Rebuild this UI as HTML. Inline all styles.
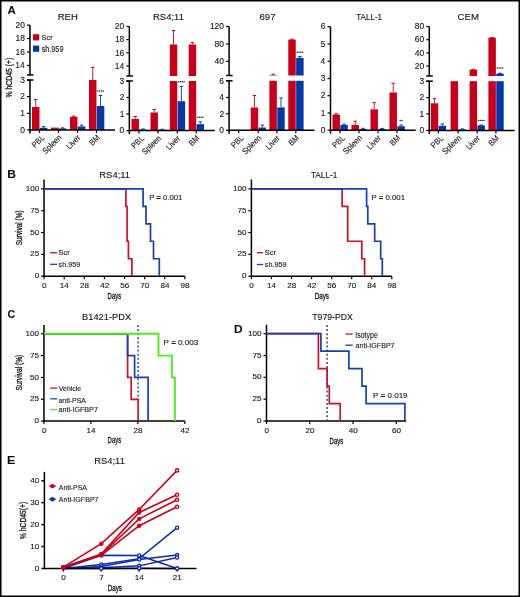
<!DOCTYPE html>
<html><head><meta charset="utf-8"><style>
html,body{margin:0;padding:0;background:#fff;}
svg{display:block;will-change:transform;}
text{font-family:"Liberation Sans", sans-serif;fill:#111;stroke:#111;stroke-width:0.1px;}
text.cd{stroke-width:0.3px;}
</style></head><body>
<svg width="520" height="597" viewBox="0 0 520 597">
<defs><filter id="sb" x="-2%" y="-2%" width="104%" height="104%"><feGaussianBlur stdDeviation="0.3"/></filter></defs>
<rect x="0" y="0" width="520" height="597" fill="#fff"/>
<g filter="url(#sb)">
<text x="7.41" y="13.8" font-size="10.61" font-weight="bold" textLength="8.29" lengthAdjust="spacingAndGlyphs">A</text>
<text x="7.2" y="177.7" font-size="11.19" font-weight="bold" textLength="8.64" lengthAdjust="spacingAndGlyphs">B</text>
<text x="7.56" y="318.3" font-size="10.45" font-weight="bold" textLength="7.73" lengthAdjust="spacingAndGlyphs">C</text>
<text x="234" y="333.1" font-size="11.19" font-weight="bold" textLength="8.6" lengthAdjust="spacingAndGlyphs">D</text>
<text x="6.97" y="464.4" font-size="10.47" font-weight="bold" textLength="8.32" lengthAdjust="spacingAndGlyphs">E</text>
<text x="57.72" y="20" font-size="8.29" textLength="20.05" lengthAdjust="spacingAndGlyphs">REH</text>
<rect x="32" y="107" width="7.45" height="22.9" fill="#c8001a"/>
<line x1="35.73" y1="107" x2="35.73" y2="99.5" stroke="#c8001a" stroke-width="0.9"/>
<line x1="34.02" y1="99.5" x2="37.43" y2="99.5" stroke="#c8001a" stroke-width="1"/>
<rect x="39.85" y="127.8" width="7.45" height="2.1" fill="#0038a8"/>
<line x1="43.58" y1="127.8" x2="43.58" y2="126.6" stroke="#0038a8" stroke-width="0.9"/>
<line x1="41.88" y1="126.6" x2="45.28" y2="126.6" stroke="#0038a8" stroke-width="1"/>
<rect x="51" y="127.6" width="7.45" height="2.3" fill="#c8001a"/>
<rect x="58.85" y="128.4" width="7.45" height="1.5" fill="#0038a8"/>
<line x1="62.58" y1="128.4" x2="62.58" y2="127.9" stroke="#0038a8" stroke-width="0.9"/>
<line x1="60.88" y1="127.9" x2="64.28" y2="127.9" stroke="#0038a8" stroke-width="1"/>
<rect x="70" y="116.8" width="7.45" height="13.1" fill="#c8001a"/>
<line x1="73.72" y1="116.8" x2="73.72" y2="116.2" stroke="#c8001a" stroke-width="0.9"/>
<line x1="72.02" y1="116.2" x2="75.42" y2="116.2" stroke="#c8001a" stroke-width="1"/>
<rect x="77.85" y="126.5" width="7.45" height="3.4" fill="#0038a8"/>
<line x1="81.57" y1="126.5" x2="81.57" y2="125.2" stroke="#0038a8" stroke-width="0.9"/>
<line x1="79.87" y1="125.2" x2="83.27" y2="125.2" stroke="#0038a8" stroke-width="1"/>
<rect x="89" y="80" width="7.45" height="49.9" fill="#c8001a"/>
<line x1="92.72" y1="80" x2="92.72" y2="67.5" stroke="#c8001a" stroke-width="0.9"/>
<line x1="91.02" y1="67.5" x2="94.42" y2="67.5" stroke="#c8001a" stroke-width="1"/>
<rect x="96.85" y="106" width="7.45" height="23.9" fill="#0038a8"/>
<line x1="100.57" y1="106" x2="100.57" y2="95.5" stroke="#0038a8" stroke-width="0.9"/>
<line x1="98.87" y1="95.5" x2="102.27" y2="95.5" stroke="#0038a8" stroke-width="1"/>
<circle cx="97.88" cy="91" r="0.75" fill="#222"/>
<circle cx="99.67" cy="91" r="0.75" fill="#222"/>
<circle cx="101.47" cy="91" r="0.75" fill="#222"/>
<circle cx="103.27" cy="91" r="0.75" fill="#222"/>
<line x1="29.95" y1="25" x2="29.95" y2="75" stroke="#000" stroke-width="1.5"/>
<line x1="29.95" y1="80" x2="29.95" y2="133.4" stroke="#000" stroke-width="1.5"/>
<line x1="26.95" y1="75" x2="33.45" y2="75" stroke="#000" stroke-width="1.5"/>
<line x1="26.95" y1="80" x2="33.45" y2="80" stroke="#000" stroke-width="1.5"/>
<line x1="26.95" y1="25.1" x2="29.95" y2="25.1" stroke="#000" stroke-width="1.2"/>
<text x="15.46" y="27.8" font-size="8.3" textLength="9.42" lengthAdjust="spacingAndGlyphs">20</text>
<line x1="26.95" y1="38.5" x2="29.95" y2="38.5" stroke="#000" stroke-width="1.2"/>
<text x="15.5" y="41.2" font-size="8.3" textLength="9.42" lengthAdjust="spacingAndGlyphs">18</text>
<line x1="26.95" y1="52" x2="29.95" y2="52" stroke="#000" stroke-width="1.2"/>
<text x="15.51" y="54.7" font-size="8.3" textLength="9.42" lengthAdjust="spacingAndGlyphs">16</text>
<line x1="26.95" y1="65.5" x2="29.95" y2="65.5" stroke="#000" stroke-width="1.2"/>
<text x="15.38" y="68.2" font-size="8.3" textLength="9.42" lengthAdjust="spacingAndGlyphs">14</text>
<line x1="26.95" y1="80" x2="29.95" y2="80" stroke="#000" stroke-width="1.2"/>
<text x="20.21" y="82.7" font-size="8.3" textLength="4.71" lengthAdjust="spacingAndGlyphs">3</text>
<line x1="26.95" y1="96.6" x2="29.95" y2="96.6" stroke="#000" stroke-width="1.2"/>
<text x="20.27" y="99.3" font-size="8.3" textLength="4.71" lengthAdjust="spacingAndGlyphs">2</text>
<line x1="26.95" y1="113.3" x2="29.95" y2="113.3" stroke="#000" stroke-width="1.2"/>
<text x="20.25" y="116" font-size="8.3" textLength="4.71" lengthAdjust="spacingAndGlyphs">1</text>
<line x1="26.95" y1="129.9" x2="29.95" y2="129.9" stroke="#000" stroke-width="1.2"/>
<text x="20.17" y="132.6" font-size="8.3" textLength="4.71" lengthAdjust="spacingAndGlyphs">0</text>
<line x1="29.35" y1="129.9" x2="115" y2="129.9" stroke="#000" stroke-width="1.5"/>
<line x1="39.5" y1="129.9" x2="39.5" y2="132.9" stroke="#000" stroke-width="1.2"/>
<line x1="58.5" y1="129.9" x2="58.5" y2="132.9" stroke="#000" stroke-width="1.2"/>
<line x1="77.5" y1="129.9" x2="77.5" y2="132.9" stroke="#000" stroke-width="1.2"/>
<line x1="96.5" y1="129.9" x2="96.5" y2="132.9" stroke="#000" stroke-width="1.2"/>
<text x="45.08" y="138.22" font-size="8.3" text-anchor="end" textLength="14.12" lengthAdjust="spacingAndGlyphs" transform="rotate(-45 45.08 138.22)">PBL</text>
<text x="62.24" y="138.06" font-size="8.3" text-anchor="end" textLength="23.26" lengthAdjust="spacingAndGlyphs" transform="rotate(-45 62.24 138.06)">Spleen</text>
<text x="80.99" y="138.31" font-size="8.3" text-anchor="end" textLength="16.19" lengthAdjust="spacingAndGlyphs" transform="rotate(-45 80.99 138.31)">Liver</text>
<text x="100.33" y="137.97" font-size="8.3" text-anchor="end" textLength="11.21" lengthAdjust="spacingAndGlyphs" transform="rotate(-45 100.33 137.97)">BM</text>
<text x="153.04" y="19.9" font-size="8.16" textLength="30.91" lengthAdjust="spacingAndGlyphs">RS4;11</text>
<rect x="131.5" y="119" width="7.45" height="11.6" fill="#c8001a"/>
<line x1="135.22" y1="119" x2="135.22" y2="116.5" stroke="#c8001a" stroke-width="0.9"/>
<line x1="133.53" y1="116.5" x2="136.92" y2="116.5" stroke="#c8001a" stroke-width="1"/>
<rect x="139.35" y="129.4" width="7.45" height="1.2" fill="#0038a8"/>
<line x1="143.07" y1="129.4" x2="143.07" y2="129" stroke="#0038a8" stroke-width="0.9"/>
<line x1="141.38" y1="129" x2="144.77" y2="129" stroke="#0038a8" stroke-width="1"/>
<rect x="150.5" y="112.5" width="7.45" height="18.1" fill="#c8001a"/>
<line x1="154.22" y1="112.5" x2="154.22" y2="109.5" stroke="#c8001a" stroke-width="0.9"/>
<line x1="152.53" y1="109.5" x2="155.92" y2="109.5" stroke="#c8001a" stroke-width="1"/>
<rect x="158.35" y="129.6" width="7.45" height="1" fill="#0038a8"/>
<line x1="162.07" y1="129.6" x2="162.07" y2="129.2" stroke="#0038a8" stroke-width="0.9"/>
<line x1="160.38" y1="129.2" x2="163.77" y2="129.2" stroke="#0038a8" stroke-width="1"/>
<rect x="169.8" y="81" width="7.45" height="49.6" fill="#c8001a"/>
<rect x="169.8" y="44.5" width="7.45" height="31.5" fill="#c8001a"/>
<line x1="173.53" y1="44.5" x2="173.53" y2="30.5" stroke="#c8001a" stroke-width="0.9"/>
<line x1="171.83" y1="30.5" x2="175.22" y2="30.5" stroke="#c8001a" stroke-width="1"/>
<rect x="177.65" y="101.2" width="7.45" height="29.4" fill="#0038a8"/>
<line x1="181.38" y1="101.2" x2="181.38" y2="86.4" stroke="#0038a8" stroke-width="0.9"/>
<line x1="179.68" y1="86.4" x2="183.07" y2="86.4" stroke="#0038a8" stroke-width="1"/>
<circle cx="178.68" cy="81.8" r="0.75" fill="#222"/>
<circle cx="180.47" cy="81.8" r="0.75" fill="#222"/>
<circle cx="182.28" cy="81.8" r="0.75" fill="#222"/>
<circle cx="184.07" cy="81.8" r="0.75" fill="#222"/>
<rect x="188.7" y="81" width="7.45" height="49.6" fill="#c8001a"/>
<rect x="188.7" y="44.5" width="7.45" height="31.5" fill="#c8001a"/>
<line x1="192.42" y1="44.5" x2="192.42" y2="42.6" stroke="#c8001a" stroke-width="0.9"/>
<line x1="190.72" y1="42.6" x2="194.12" y2="42.6" stroke="#c8001a" stroke-width="1"/>
<rect x="196.55" y="124.2" width="7.45" height="6.4" fill="#0038a8"/>
<line x1="200.27" y1="124.2" x2="200.27" y2="121.8" stroke="#0038a8" stroke-width="0.9"/>
<line x1="198.57" y1="121.8" x2="201.97" y2="121.8" stroke="#0038a8" stroke-width="1"/>
<circle cx="197.57" cy="117.3" r="0.75" fill="#222"/>
<circle cx="199.37" cy="117.3" r="0.75" fill="#222"/>
<circle cx="201.17" cy="117.3" r="0.75" fill="#222"/>
<circle cx="202.97" cy="117.3" r="0.75" fill="#222"/>
<line x1="129.35" y1="26.5" x2="129.35" y2="76" stroke="#000" stroke-width="1.5"/>
<line x1="129.35" y1="81" x2="129.35" y2="134.1" stroke="#000" stroke-width="1.5"/>
<line x1="126.35" y1="76" x2="132.85" y2="76" stroke="#000" stroke-width="1.5"/>
<line x1="126.35" y1="81" x2="132.85" y2="81" stroke="#000" stroke-width="1.5"/>
<line x1="126.35" y1="26.5" x2="129.35" y2="26.5" stroke="#000" stroke-width="1.2"/>
<text x="114.86" y="29.2" font-size="8.3" textLength="9.42" lengthAdjust="spacingAndGlyphs">20</text>
<line x1="126.35" y1="39.6" x2="129.35" y2="39.6" stroke="#000" stroke-width="1.2"/>
<text x="114.9" y="42.3" font-size="8.3" textLength="9.42" lengthAdjust="spacingAndGlyphs">18</text>
<line x1="126.35" y1="52.8" x2="129.35" y2="52.8" stroke="#000" stroke-width="1.2"/>
<text x="114.91" y="55.5" font-size="8.3" textLength="9.42" lengthAdjust="spacingAndGlyphs">16</text>
<line x1="126.35" y1="66" x2="129.35" y2="66" stroke="#000" stroke-width="1.2"/>
<text x="114.78" y="68.7" font-size="8.3" textLength="9.42" lengthAdjust="spacingAndGlyphs">14</text>
<line x1="126.35" y1="81" x2="129.35" y2="81" stroke="#000" stroke-width="1.2"/>
<text x="119.61" y="83.7" font-size="8.3" textLength="4.71" lengthAdjust="spacingAndGlyphs">3</text>
<line x1="126.35" y1="97.5" x2="129.35" y2="97.5" stroke="#000" stroke-width="1.2"/>
<text x="119.67" y="100.2" font-size="8.3" textLength="4.71" lengthAdjust="spacingAndGlyphs">2</text>
<line x1="126.35" y1="114" x2="129.35" y2="114" stroke="#000" stroke-width="1.2"/>
<text x="119.65" y="116.7" font-size="8.3" textLength="4.71" lengthAdjust="spacingAndGlyphs">1</text>
<line x1="126.35" y1="130.6" x2="129.35" y2="130.6" stroke="#000" stroke-width="1.2"/>
<text x="119.57" y="133.3" font-size="8.3" textLength="4.71" lengthAdjust="spacingAndGlyphs">0</text>
<line x1="128.75" y1="130.6" x2="214.7" y2="130.6" stroke="#000" stroke-width="1.5"/>
<line x1="139" y1="130.6" x2="139" y2="133.6" stroke="#000" stroke-width="1.2"/>
<line x1="158" y1="130.6" x2="158" y2="133.6" stroke="#000" stroke-width="1.2"/>
<line x1="177.3" y1="130.6" x2="177.3" y2="133.6" stroke="#000" stroke-width="1.2"/>
<line x1="196.2" y1="130.6" x2="196.2" y2="133.6" stroke="#000" stroke-width="1.2"/>
<text x="144.58" y="138.92" font-size="8.3" text-anchor="end" textLength="14.12" lengthAdjust="spacingAndGlyphs" transform="rotate(-45 144.58 138.92)">PBL</text>
<text x="161.74" y="138.76" font-size="8.3" text-anchor="end" textLength="23.26" lengthAdjust="spacingAndGlyphs" transform="rotate(-45 161.74 138.76)">Spleen</text>
<text x="180.79" y="139.01" font-size="8.3" text-anchor="end" textLength="16.19" lengthAdjust="spacingAndGlyphs" transform="rotate(-45 180.79 139.01)">Liver</text>
<text x="200.03" y="138.67" font-size="8.3" text-anchor="end" textLength="11.21" lengthAdjust="spacingAndGlyphs" transform="rotate(-45 200.03 138.67)">BM</text>
<text x="259.51" y="20.2" font-size="8.88" textLength="15.97" lengthAdjust="spacingAndGlyphs">697</text>
<rect x="250.7" y="107.5" width="7.45" height="22.8" fill="#c8001a"/>
<line x1="254.42" y1="107.5" x2="254.42" y2="95.5" stroke="#c8001a" stroke-width="0.9"/>
<line x1="252.72" y1="95.5" x2="256.12" y2="95.5" stroke="#c8001a" stroke-width="1"/>
<rect x="258.55" y="127.5" width="7.45" height="2.8" fill="#0038a8"/>
<line x1="262.27" y1="127.5" x2="262.27" y2="125.1" stroke="#0038a8" stroke-width="0.9"/>
<line x1="260.57" y1="125.1" x2="263.97" y2="125.1" stroke="#0038a8" stroke-width="1"/>
<rect x="269.4" y="80.8" width="7.45" height="49.5" fill="#c8001a"/>
<rect x="269.4" y="75" width="7.45" height="0.5" fill="#c8001a"/>
<line x1="273.12" y1="75" x2="273.12" y2="74.2" stroke="#c8001a" stroke-width="0.9"/>
<line x1="271.43" y1="74.2" x2="274.82" y2="74.2" stroke="#c8001a" stroke-width="1"/>
<rect x="277.25" y="107.4" width="7.45" height="22.9" fill="#0038a8"/>
<line x1="280.98" y1="107.4" x2="280.98" y2="98" stroke="#0038a8" stroke-width="0.9"/>
<line x1="279.28" y1="98" x2="282.68" y2="98" stroke="#0038a8" stroke-width="1"/>
<rect x="288.3" y="80.8" width="7.45" height="49.5" fill="#c8001a"/>
<rect x="288.3" y="39.6" width="7.45" height="35.9" fill="#c8001a"/>
<line x1="292.02" y1="39.6" x2="292.02" y2="39.2" stroke="#c8001a" stroke-width="0.9"/>
<line x1="290.32" y1="39.2" x2="293.72" y2="39.2" stroke="#c8001a" stroke-width="1"/>
<rect x="296.15" y="80.8" width="7.45" height="49.5" fill="#0038a8"/>
<rect x="296.15" y="57.8" width="7.45" height="17.7" fill="#0038a8"/>
<line x1="299.88" y1="57.8" x2="299.88" y2="56.5" stroke="#0038a8" stroke-width="0.9"/>
<line x1="298.18" y1="56.5" x2="301.57" y2="56.5" stroke="#0038a8" stroke-width="1"/>
<circle cx="297.17" cy="52.3" r="0.75" fill="#222"/>
<circle cx="298.98" cy="52.3" r="0.75" fill="#222"/>
<circle cx="300.77" cy="52.3" r="0.75" fill="#222"/>
<circle cx="302.58" cy="52.3" r="0.75" fill="#222"/>
<line x1="229.1" y1="26.5" x2="229.1" y2="75.5" stroke="#000" stroke-width="1.5"/>
<line x1="229.1" y1="80.8" x2="229.1" y2="133.8" stroke="#000" stroke-width="1.5"/>
<line x1="226.1" y1="75.5" x2="232.6" y2="75.5" stroke="#000" stroke-width="1.5"/>
<line x1="226.1" y1="80.8" x2="232.6" y2="80.8" stroke="#000" stroke-width="1.5"/>
<line x1="226.1" y1="26.5" x2="229.1" y2="26.5" stroke="#000" stroke-width="1.2"/>
<text x="209.91" y="29.2" font-size="8.3" textLength="14.13" lengthAdjust="spacingAndGlyphs">120</text>
<line x1="226.1" y1="44" x2="229.1" y2="44" stroke="#000" stroke-width="1.2"/>
<text x="214.61" y="46.7" font-size="8.3" textLength="9.42" lengthAdjust="spacingAndGlyphs">80</text>
<line x1="226.1" y1="61.4" x2="229.1" y2="61.4" stroke="#000" stroke-width="1.2"/>
<text x="214.61" y="64.1" font-size="8.3" textLength="9.42" lengthAdjust="spacingAndGlyphs">40</text>
<line x1="226.1" y1="80.8" x2="229.1" y2="80.8" stroke="#000" stroke-width="1.2"/>
<text x="219.36" y="83.5" font-size="8.3" textLength="4.71" lengthAdjust="spacingAndGlyphs">6</text>
<line x1="226.1" y1="97.5" x2="229.1" y2="97.5" stroke="#000" stroke-width="1.2"/>
<text x="219.24" y="100.2" font-size="8.3" textLength="4.71" lengthAdjust="spacingAndGlyphs">4</text>
<line x1="226.1" y1="113.8" x2="229.1" y2="113.8" stroke="#000" stroke-width="1.2"/>
<text x="219.42" y="116.5" font-size="8.3" textLength="4.71" lengthAdjust="spacingAndGlyphs">2</text>
<line x1="226.1" y1="130.3" x2="229.1" y2="130.3" stroke="#000" stroke-width="1.2"/>
<text x="219.32" y="133" font-size="8.3" textLength="4.71" lengthAdjust="spacingAndGlyphs">0</text>
<line x1="228.5" y1="130.3" x2="314.5" y2="130.3" stroke="#000" stroke-width="1.5"/>
<line x1="238.7" y1="130.3" x2="238.7" y2="133.3" stroke="#000" stroke-width="1.2"/>
<line x1="258.2" y1="130.3" x2="258.2" y2="133.3" stroke="#000" stroke-width="1.2"/>
<line x1="276.9" y1="130.3" x2="276.9" y2="133.3" stroke="#000" stroke-width="1.2"/>
<line x1="295.8" y1="130.3" x2="295.8" y2="133.3" stroke="#000" stroke-width="1.2"/>
<text x="244.28" y="138.62" font-size="8.3" text-anchor="end" textLength="14.12" lengthAdjust="spacingAndGlyphs" transform="rotate(-45 244.28 138.62)">PBL</text>
<text x="261.94" y="138.46" font-size="8.3" text-anchor="end" textLength="23.26" lengthAdjust="spacingAndGlyphs" transform="rotate(-45 261.94 138.46)">Spleen</text>
<text x="280.39" y="138.71" font-size="8.3" text-anchor="end" textLength="16.19" lengthAdjust="spacingAndGlyphs" transform="rotate(-45 280.39 138.71)">Liver</text>
<text x="299.63" y="138.37" font-size="8.3" text-anchor="end" textLength="11.21" lengthAdjust="spacingAndGlyphs" transform="rotate(-45 299.63 138.37)">BM</text>
<text x="356.32" y="20.2" font-size="9.01" textLength="25.76" lengthAdjust="spacingAndGlyphs">TALL-1</text>
<rect x="332.5" y="114.5" width="7.45" height="15.7" fill="#c8001a"/>
<line x1="336.23" y1="114.5" x2="336.23" y2="113.8" stroke="#c8001a" stroke-width="0.9"/>
<line x1="334.53" y1="113.8" x2="337.93" y2="113.8" stroke="#c8001a" stroke-width="1"/>
<rect x="340.35" y="125" width="7.45" height="5.2" fill="#0038a8"/>
<line x1="344.08" y1="125" x2="344.08" y2="124.2" stroke="#0038a8" stroke-width="0.9"/>
<line x1="342.38" y1="124.2" x2="345.78" y2="124.2" stroke="#0038a8" stroke-width="1"/>
<rect x="351.5" y="125" width="7.45" height="5.2" fill="#c8001a"/>
<line x1="355.23" y1="125" x2="355.23" y2="121.2" stroke="#c8001a" stroke-width="0.9"/>
<line x1="353.53" y1="121.2" x2="356.93" y2="121.2" stroke="#c8001a" stroke-width="1"/>
<rect x="359.35" y="128.9" width="7.45" height="1.3" fill="#0038a8"/>
<line x1="363.08" y1="128.9" x2="363.08" y2="128.3" stroke="#0038a8" stroke-width="0.9"/>
<line x1="361.38" y1="128.3" x2="364.78" y2="128.3" stroke="#0038a8" stroke-width="1"/>
<rect x="370.5" y="109.3" width="7.45" height="20.9" fill="#c8001a"/>
<line x1="374.23" y1="109.3" x2="374.23" y2="102.4" stroke="#c8001a" stroke-width="0.9"/>
<line x1="372.53" y1="102.4" x2="375.93" y2="102.4" stroke="#c8001a" stroke-width="1"/>
<rect x="378.35" y="128.9" width="7.45" height="1.3" fill="#0038a8"/>
<line x1="382.08" y1="128.9" x2="382.08" y2="128.4" stroke="#0038a8" stroke-width="0.9"/>
<line x1="380.38" y1="128.4" x2="383.78" y2="128.4" stroke="#0038a8" stroke-width="1"/>
<rect x="389.5" y="92.5" width="7.45" height="37.7" fill="#c8001a"/>
<line x1="393.23" y1="92.5" x2="393.23" y2="83.3" stroke="#c8001a" stroke-width="0.9"/>
<line x1="391.53" y1="83.3" x2="394.93" y2="83.3" stroke="#c8001a" stroke-width="1"/>
<rect x="397.35" y="126.2" width="7.45" height="4" fill="#0038a8"/>
<line x1="401.08" y1="126.2" x2="401.08" y2="125" stroke="#0038a8" stroke-width="0.9"/>
<line x1="399.38" y1="125" x2="402.78" y2="125" stroke="#0038a8" stroke-width="1"/>
<circle cx="400.18" cy="120.5" r="0.75" fill="#222"/>
<circle cx="401.98" cy="120.5" r="0.75" fill="#222"/>
<line x1="330.5" y1="26.7" x2="330.5" y2="133.7" stroke="#000" stroke-width="1.5"/>
<line x1="327.5" y1="26.7" x2="330.5" y2="26.7" stroke="#000" stroke-width="1.2"/>
<text x="320.76" y="29.4" font-size="8.3" textLength="4.71" lengthAdjust="spacingAndGlyphs">6</text>
<line x1="327.5" y1="44" x2="330.5" y2="44" stroke="#000" stroke-width="1.2"/>
<text x="320.75" y="46.7" font-size="8.3" textLength="4.71" lengthAdjust="spacingAndGlyphs">5</text>
<line x1="327.5" y1="61.3" x2="330.5" y2="61.3" stroke="#000" stroke-width="1.2"/>
<text x="320.64" y="64" font-size="8.3" textLength="4.71" lengthAdjust="spacingAndGlyphs">4</text>
<line x1="327.5" y1="78.5" x2="330.5" y2="78.5" stroke="#000" stroke-width="1.2"/>
<text x="320.76" y="81.2" font-size="8.3" textLength="4.71" lengthAdjust="spacingAndGlyphs">3</text>
<line x1="327.5" y1="95.7" x2="330.5" y2="95.7" stroke="#000" stroke-width="1.2"/>
<text x="320.82" y="98.4" font-size="8.3" textLength="4.71" lengthAdjust="spacingAndGlyphs">2</text>
<line x1="327.5" y1="113" x2="330.5" y2="113" stroke="#000" stroke-width="1.2"/>
<text x="320.8" y="115.7" font-size="8.3" textLength="4.71" lengthAdjust="spacingAndGlyphs">1</text>
<line x1="327.5" y1="130.2" x2="330.5" y2="130.2" stroke="#000" stroke-width="1.2"/>
<text x="320.72" y="132.9" font-size="8.3" textLength="4.71" lengthAdjust="spacingAndGlyphs">0</text>
<line x1="329.9" y1="130.2" x2="415.7" y2="130.2" stroke="#000" stroke-width="1.5"/>
<line x1="340" y1="130.2" x2="340" y2="133.2" stroke="#000" stroke-width="1.2"/>
<line x1="359" y1="130.2" x2="359" y2="133.2" stroke="#000" stroke-width="1.2"/>
<line x1="378" y1="130.2" x2="378" y2="133.2" stroke="#000" stroke-width="1.2"/>
<line x1="397" y1="130.2" x2="397" y2="133.2" stroke="#000" stroke-width="1.2"/>
<text x="345.58" y="138.52" font-size="8.3" text-anchor="end" textLength="14.12" lengthAdjust="spacingAndGlyphs" transform="rotate(-45 345.58 138.52)">PBL</text>
<text x="362.74" y="138.36" font-size="8.3" text-anchor="end" textLength="23.26" lengthAdjust="spacingAndGlyphs" transform="rotate(-45 362.74 138.36)">Spleen</text>
<text x="381.49" y="138.61" font-size="8.3" text-anchor="end" textLength="16.19" lengthAdjust="spacingAndGlyphs" transform="rotate(-45 381.49 138.61)">Liver</text>
<text x="400.83" y="138.27" font-size="8.3" text-anchor="end" textLength="11.21" lengthAdjust="spacingAndGlyphs" transform="rotate(-45 400.83 138.27)">BM</text>
<text x="457.61" y="20.3" font-size="9.31" textLength="21.27" lengthAdjust="spacingAndGlyphs">CEM</text>
<rect x="430.8" y="103.3" width="7.45" height="27.1" fill="#c8001a"/>
<line x1="434.52" y1="103.3" x2="434.52" y2="98.7" stroke="#c8001a" stroke-width="0.9"/>
<line x1="432.82" y1="98.7" x2="436.22" y2="98.7" stroke="#c8001a" stroke-width="1"/>
<rect x="438.65" y="125.8" width="7.45" height="4.6" fill="#0038a8"/>
<line x1="442.38" y1="125.8" x2="442.38" y2="124" stroke="#0038a8" stroke-width="0.9"/>
<line x1="440.68" y1="124" x2="444.07" y2="124" stroke="#0038a8" stroke-width="1"/>
<rect x="450.6" y="81.2" width="7.45" height="49.2" fill="#c8001a"/>
<rect x="458.45" y="129.3" width="7.45" height="1.1" fill="#0038a8"/>
<line x1="462.18" y1="129.3" x2="462.18" y2="128.9" stroke="#0038a8" stroke-width="0.9"/>
<line x1="460.48" y1="128.9" x2="463.88" y2="128.9" stroke="#0038a8" stroke-width="1"/>
<rect x="469.6" y="81.2" width="7.45" height="49.2" fill="#c8001a"/>
<rect x="469.6" y="69.6" width="7.45" height="6.4" fill="#c8001a"/>
<line x1="473.33" y1="69.6" x2="473.33" y2="69.3" stroke="#c8001a" stroke-width="0.9"/>
<line x1="471.63" y1="69.3" x2="475.03" y2="69.3" stroke="#c8001a" stroke-width="1"/>
<rect x="477.45" y="125.4" width="7.45" height="5" fill="#0038a8"/>
<line x1="481.18" y1="125.4" x2="481.18" y2="125" stroke="#0038a8" stroke-width="0.9"/>
<line x1="479.48" y1="125" x2="482.88" y2="125" stroke="#0038a8" stroke-width="1"/>
<circle cx="478.48" cy="120.6" r="0.75" fill="#222"/>
<circle cx="480.28" cy="120.6" r="0.75" fill="#222"/>
<circle cx="482.08" cy="120.6" r="0.75" fill="#222"/>
<circle cx="483.88" cy="120.6" r="0.75" fill="#222"/>
<rect x="488.4" y="81.2" width="7.45" height="49.2" fill="#c8001a"/>
<rect x="488.4" y="37.7" width="7.45" height="38.3" fill="#c8001a"/>
<line x1="492.12" y1="37.7" x2="492.12" y2="37.4" stroke="#c8001a" stroke-width="0.9"/>
<line x1="490.43" y1="37.4" x2="493.82" y2="37.4" stroke="#c8001a" stroke-width="1"/>
<rect x="496.25" y="81.2" width="7.45" height="49.2" fill="#0038a8"/>
<rect x="496.25" y="73.6" width="7.45" height="2.4" fill="#0038a8"/>
<line x1="499.98" y1="73.6" x2="499.98" y2="73.2" stroke="#0038a8" stroke-width="0.9"/>
<line x1="498.28" y1="73.2" x2="501.68" y2="73.2" stroke="#0038a8" stroke-width="1"/>
<circle cx="497.27" cy="68.1" r="0.75" fill="#222"/>
<circle cx="499.08" cy="68.1" r="0.75" fill="#222"/>
<circle cx="500.88" cy="68.1" r="0.75" fill="#222"/>
<circle cx="502.68" cy="68.1" r="0.75" fill="#222"/>
<line x1="429.3" y1="26.5" x2="429.3" y2="76" stroke="#000" stroke-width="1.5"/>
<line x1="429.3" y1="81.2" x2="429.3" y2="133.9" stroke="#000" stroke-width="1.5"/>
<line x1="426.3" y1="76" x2="432.8" y2="76" stroke="#000" stroke-width="1.5"/>
<line x1="426.3" y1="81.2" x2="432.8" y2="81.2" stroke="#000" stroke-width="1.5"/>
<line x1="426.3" y1="26.5" x2="429.3" y2="26.5" stroke="#000" stroke-width="1.2"/>
<text x="414.81" y="29.2" font-size="8.3" textLength="9.42" lengthAdjust="spacingAndGlyphs">80</text>
<line x1="426.3" y1="39.7" x2="429.3" y2="39.7" stroke="#000" stroke-width="1.2"/>
<text x="414.81" y="42.4" font-size="8.3" textLength="9.42" lengthAdjust="spacingAndGlyphs">60</text>
<line x1="426.3" y1="52.9" x2="429.3" y2="52.9" stroke="#000" stroke-width="1.2"/>
<text x="414.81" y="55.6" font-size="8.3" textLength="9.42" lengthAdjust="spacingAndGlyphs">40</text>
<line x1="426.3" y1="66" x2="429.3" y2="66" stroke="#000" stroke-width="1.2"/>
<text x="414.81" y="68.7" font-size="8.3" textLength="9.42" lengthAdjust="spacingAndGlyphs">20</text>
<line x1="426.3" y1="81.2" x2="429.3" y2="81.2" stroke="#000" stroke-width="1.2"/>
<text x="419.56" y="83.9" font-size="8.3" textLength="4.71" lengthAdjust="spacingAndGlyphs">3</text>
<line x1="426.3" y1="97.6" x2="429.3" y2="97.6" stroke="#000" stroke-width="1.2"/>
<text x="419.62" y="100.3" font-size="8.3" textLength="4.71" lengthAdjust="spacingAndGlyphs">2</text>
<line x1="426.3" y1="113.9" x2="429.3" y2="113.9" stroke="#000" stroke-width="1.2"/>
<text x="419.6" y="116.6" font-size="8.3" textLength="4.71" lengthAdjust="spacingAndGlyphs">1</text>
<line x1="426.3" y1="130.4" x2="429.3" y2="130.4" stroke="#000" stroke-width="1.2"/>
<text x="419.52" y="133.1" font-size="8.3" textLength="4.71" lengthAdjust="spacingAndGlyphs">0</text>
<line x1="428.7" y1="130.4" x2="514.7" y2="130.4" stroke="#000" stroke-width="1.5"/>
<line x1="438.3" y1="130.4" x2="438.3" y2="133.4" stroke="#000" stroke-width="1.2"/>
<line x1="458.1" y1="130.4" x2="458.1" y2="133.4" stroke="#000" stroke-width="1.2"/>
<line x1="477.1" y1="130.4" x2="477.1" y2="133.4" stroke="#000" stroke-width="1.2"/>
<line x1="495.9" y1="130.4" x2="495.9" y2="133.4" stroke="#000" stroke-width="1.2"/>
<text x="443.88" y="138.72" font-size="8.3" text-anchor="end" textLength="14.12" lengthAdjust="spacingAndGlyphs" transform="rotate(-45 443.88 138.72)">PBL</text>
<text x="461.84" y="138.56" font-size="8.3" text-anchor="end" textLength="23.26" lengthAdjust="spacingAndGlyphs" transform="rotate(-45 461.84 138.56)">Spleen</text>
<text x="480.59" y="138.81" font-size="8.3" text-anchor="end" textLength="16.19" lengthAdjust="spacingAndGlyphs" transform="rotate(-45 480.59 138.81)">Liver</text>
<text x="499.73" y="138.47" font-size="8.3" text-anchor="end" textLength="11.21" lengthAdjust="spacingAndGlyphs" transform="rotate(-45 499.73 138.47)">BM</text>
<rect x="33" y="34.2" width="6.2" height="6.2" fill="#c8001a"/>
<rect x="33" y="45.6" width="6.2" height="6.2" fill="#0038a8"/>
<text x="41.56" y="39.9" font-size="8.02" textLength="11.27" lengthAdjust="spacingAndGlyphs">Scr</text>
<text x="41.7" y="51.6" font-size="8.28" textLength="21.74" lengthAdjust="spacingAndGlyphs">sh.959</text>
<text x="11.7" y="97.55" font-size="8.69" textLength="39.97" lengthAdjust="spacingAndGlyphs" transform="rotate(-90 11.7 97.55)" class="cd">% hCD45 (+)</text>
<line x1="44.05" y1="179.5" x2="44.05" y2="276.8" stroke="#000" stroke-width="1.5"/>
<line x1="41.05" y1="188.85" x2="44.05" y2="188.85" stroke="#000" stroke-width="1.2"/>
<text x="25.66" y="190.95" font-size="7.1" textLength="13.5" lengthAdjust="spacingAndGlyphs">100</text>
<line x1="41.05" y1="210.69" x2="44.05" y2="210.69" stroke="#000" stroke-width="1.2"/>
<text x="30.19" y="212.79" font-size="7.1" textLength="9" lengthAdjust="spacingAndGlyphs">75</text>
<line x1="41.05" y1="232.52" x2="44.05" y2="232.52" stroke="#000" stroke-width="1.2"/>
<text x="30.16" y="234.62" font-size="7.1" textLength="9" lengthAdjust="spacingAndGlyphs">50</text>
<line x1="41.05" y1="254.36" x2="44.05" y2="254.36" stroke="#000" stroke-width="1.2"/>
<text x="30.19" y="256.46" font-size="7.1" textLength="9" lengthAdjust="spacingAndGlyphs">25</text>
<line x1="41.05" y1="276.2" x2="44.05" y2="276.2" stroke="#000" stroke-width="1.2"/>
<text x="34.66" y="278.3" font-size="7.1" textLength="4.5" lengthAdjust="spacingAndGlyphs">0</text>
<line x1="43.45" y1="276.2" x2="184.9" y2="276.2" stroke="#000" stroke-width="1.5"/>
<line x1="44.05" y1="276.2" x2="44.05" y2="279.2" stroke="#000" stroke-width="1.2"/>
<text x="42" y="287.7" font-size="7.1" textLength="4.5" lengthAdjust="spacingAndGlyphs">0</text>
<line x1="64.17" y1="276.2" x2="64.17" y2="279.2" stroke="#000" stroke-width="1.2"/>
<text x="59.68" y="287.7" font-size="7.1" textLength="9" lengthAdjust="spacingAndGlyphs">14</text>
<line x1="84.29" y1="276.2" x2="84.29" y2="279.2" stroke="#000" stroke-width="1.2"/>
<text x="79.96" y="287.7" font-size="7.1" textLength="9" lengthAdjust="spacingAndGlyphs">28</text>
<line x1="104.41" y1="276.2" x2="104.41" y2="279.2" stroke="#000" stroke-width="1.2"/>
<text x="100.22" y="287.7" font-size="7.1" textLength="9" lengthAdjust="spacingAndGlyphs">42</text>
<line x1="124.54" y1="276.2" x2="124.54" y2="279.2" stroke="#000" stroke-width="1.2"/>
<text x="120.25" y="287.7" font-size="7.1" textLength="9" lengthAdjust="spacingAndGlyphs">56</text>
<line x1="144.66" y1="276.2" x2="144.66" y2="279.2" stroke="#000" stroke-width="1.2"/>
<text x="140.31" y="287.7" font-size="7.1" textLength="9" lengthAdjust="spacingAndGlyphs">70</text>
<line x1="164.78" y1="276.2" x2="164.78" y2="279.2" stroke="#000" stroke-width="1.2"/>
<text x="160.42" y="287.7" font-size="7.1" textLength="9" lengthAdjust="spacingAndGlyphs">84</text>
<line x1="184.9" y1="276.2" x2="184.9" y2="279.2" stroke="#000" stroke-width="1.2"/>
<text x="180.58" y="287.7" font-size="7.1" textLength="9" lengthAdjust="spacingAndGlyphs">98</text>
<text x="99.34" y="178.3" font-size="8.31" textLength="30.7" lengthAdjust="spacingAndGlyphs">RS4;11</text>
<path d="M44.05,188.85 L125.9,188.85 L125.9,206.32 L127.1,206.32 L127.1,241.26 L128.4,241.26 L128.4,258.73 L131.9,258.73 L131.9,276.2" stroke="#d0102a" stroke-width="1.7" fill="none" stroke-linejoin="miter" stroke-linecap="butt"/>
<path d="M44.05,188.85 L143.1,188.85 L143.1,206.32 L146,206.32 L146,223.79 L150.5,223.79 L150.5,241.26 L153.5,241.26 L153.5,258.73 L159.3,258.73 L159.3,276.2" stroke="#1440b4" stroke-width="1.7" fill="none" stroke-linejoin="miter" stroke-linecap="butt"/>
<text x="149.17" y="200.1" font-size="7.88" textLength="33.21" lengthAdjust="spacingAndGlyphs">P <tspan font-weight="bold">=</tspan> 0.001</text>
<line x1="50.2" y1="252.7" x2="57.2" y2="252.7" stroke="#d0102a" stroke-width="1.3"/>
<line x1="50.2" y1="264.3" x2="57.2" y2="264.3" stroke="#1440b4" stroke-width="1.3"/>
<text x="58.46" y="255.4" font-size="7.16" textLength="11.27" lengthAdjust="spacingAndGlyphs">Scr</text>
<text x="58.6" y="267.3" font-size="6.9" textLength="21.74" lengthAdjust="spacingAndGlyphs">sh.959</text>
<text x="22.43" y="245.29" font-size="9.02" textLength="35" lengthAdjust="spacingAndGlyphs" transform="rotate(-90 22.43 245.29)" class="cd">Survival (%)</text>
<text x="107.61" y="298.75" font-size="9.38" textLength="13.5" lengthAdjust="spacingAndGlyphs" class="cd">Days</text>
<line x1="251.4" y1="179.4" x2="251.4" y2="276.8" stroke="#000" stroke-width="1.5"/>
<line x1="248.4" y1="188.85" x2="251.4" y2="188.85" stroke="#000" stroke-width="1.2"/>
<text x="233.01" y="190.95" font-size="7.1" textLength="13.5" lengthAdjust="spacingAndGlyphs">100</text>
<line x1="248.4" y1="210.69" x2="251.4" y2="210.69" stroke="#000" stroke-width="1.2"/>
<text x="237.54" y="212.79" font-size="7.1" textLength="9" lengthAdjust="spacingAndGlyphs">75</text>
<line x1="248.4" y1="232.52" x2="251.4" y2="232.52" stroke="#000" stroke-width="1.2"/>
<text x="237.51" y="234.62" font-size="7.1" textLength="9" lengthAdjust="spacingAndGlyphs">50</text>
<line x1="248.4" y1="254.36" x2="251.4" y2="254.36" stroke="#000" stroke-width="1.2"/>
<text x="237.54" y="256.46" font-size="7.1" textLength="9" lengthAdjust="spacingAndGlyphs">25</text>
<line x1="248.4" y1="276.2" x2="251.4" y2="276.2" stroke="#000" stroke-width="1.2"/>
<text x="242.01" y="278.3" font-size="7.1" textLength="4.5" lengthAdjust="spacingAndGlyphs">0</text>
<line x1="250.8" y1="276.2" x2="391.8" y2="276.2" stroke="#000" stroke-width="1.5"/>
<line x1="251.4" y1="276.2" x2="251.4" y2="279.2" stroke="#000" stroke-width="1.2"/>
<text x="249.35" y="287.7" font-size="7.1" textLength="4.5" lengthAdjust="spacingAndGlyphs">0</text>
<line x1="271.46" y1="276.2" x2="271.46" y2="279.2" stroke="#000" stroke-width="1.2"/>
<text x="266.97" y="287.7" font-size="7.1" textLength="9" lengthAdjust="spacingAndGlyphs">14</text>
<line x1="291.51" y1="276.2" x2="291.51" y2="279.2" stroke="#000" stroke-width="1.2"/>
<text x="287.19" y="287.7" font-size="7.1" textLength="9" lengthAdjust="spacingAndGlyphs">28</text>
<line x1="311.57" y1="276.2" x2="311.57" y2="279.2" stroke="#000" stroke-width="1.2"/>
<text x="307.38" y="287.7" font-size="7.1" textLength="9" lengthAdjust="spacingAndGlyphs">42</text>
<line x1="331.63" y1="276.2" x2="331.63" y2="279.2" stroke="#000" stroke-width="1.2"/>
<text x="327.34" y="287.7" font-size="7.1" textLength="9" lengthAdjust="spacingAndGlyphs">56</text>
<line x1="351.69" y1="276.2" x2="351.69" y2="279.2" stroke="#000" stroke-width="1.2"/>
<text x="347.33" y="287.7" font-size="7.1" textLength="9" lengthAdjust="spacingAndGlyphs">70</text>
<line x1="371.74" y1="276.2" x2="371.74" y2="279.2" stroke="#000" stroke-width="1.2"/>
<text x="367.38" y="287.7" font-size="7.1" textLength="9" lengthAdjust="spacingAndGlyphs">84</text>
<line x1="391.8" y1="276.2" x2="391.8" y2="279.2" stroke="#000" stroke-width="1.2"/>
<text x="387.48" y="287.7" font-size="7.1" textLength="9" lengthAdjust="spacingAndGlyphs">98</text>
<text x="310.92" y="178" font-size="8.43" textLength="26.48" lengthAdjust="spacingAndGlyphs">TALL-1</text>
<path d="M251.4,188.85 L342.1,188.85 L342.1,206.32 L347.7,206.32 L347.7,241.26 L361.8,241.26 L361.8,258.73 L364.6,258.73 L364.6,276.2" stroke="#d0102a" stroke-width="1.7" fill="none" stroke-linejoin="miter" stroke-linecap="butt"/>
<path d="M251.4,188.85 L366.6,188.85 L366.6,206.32 L367.8,206.32 L367.8,223.79 L374.7,223.79 L374.7,241.26 L380.7,241.26 L380.7,258.73 L382.3,258.73 L382.3,276.2" stroke="#1440b4" stroke-width="1.7" fill="none" stroke-linejoin="miter" stroke-linecap="butt"/>
<text x="371.56" y="200.2" font-size="8.02" textLength="33.41" lengthAdjust="spacingAndGlyphs">P <tspan font-weight="bold">=</tspan> 0.001</text>
<line x1="256.8" y1="252.7" x2="263.1" y2="252.7" stroke="#d0102a" stroke-width="1.3"/>
<line x1="256.8" y1="264.5" x2="263.1" y2="264.5" stroke="#1440b4" stroke-width="1.3"/>
<text x="264.66" y="255.4" font-size="7.16" textLength="11.27" lengthAdjust="spacingAndGlyphs">Scr</text>
<text x="264.8" y="267.3" font-size="6.9" textLength="21.74" lengthAdjust="spacingAndGlyphs">sh.959</text>
<text x="314.68" y="298.52" font-size="9.05" textLength="14.34" lengthAdjust="spacingAndGlyphs" class="cd">Days</text>
<line x1="43.95" y1="325" x2="43.95" y2="421.7" stroke="#000" stroke-width="1.5"/>
<line x1="40.95" y1="333.8" x2="43.95" y2="333.8" stroke="#000" stroke-width="1.2"/>
<text x="25.56" y="335.9" font-size="7.1" textLength="13.5" lengthAdjust="spacingAndGlyphs">100</text>
<line x1="40.95" y1="355.62" x2="43.95" y2="355.62" stroke="#000" stroke-width="1.2"/>
<text x="30.09" y="357.73" font-size="7.1" textLength="9" lengthAdjust="spacingAndGlyphs">75</text>
<line x1="40.95" y1="377.45" x2="43.95" y2="377.45" stroke="#000" stroke-width="1.2"/>
<text x="30.06" y="379.55" font-size="7.1" textLength="9" lengthAdjust="spacingAndGlyphs">50</text>
<line x1="40.95" y1="399.28" x2="43.95" y2="399.28" stroke="#000" stroke-width="1.2"/>
<text x="30.09" y="401.38" font-size="7.1" textLength="9" lengthAdjust="spacingAndGlyphs">25</text>
<line x1="40.95" y1="421.1" x2="43.95" y2="421.1" stroke="#000" stroke-width="1.2"/>
<text x="34.56" y="423.2" font-size="7.1" textLength="4.5" lengthAdjust="spacingAndGlyphs">0</text>
<line x1="43.35" y1="421.1" x2="184.8" y2="421.1" stroke="#000" stroke-width="1.5"/>
<line x1="43.95" y1="421.1" x2="43.95" y2="424.1" stroke="#000" stroke-width="1.2"/>
<text x="41.9" y="432.6" font-size="7.1" textLength="4.5" lengthAdjust="spacingAndGlyphs">0</text>
<line x1="90.9" y1="421.1" x2="90.9" y2="424.1" stroke="#000" stroke-width="1.2"/>
<text x="86.41" y="432.6" font-size="7.1" textLength="9" lengthAdjust="spacingAndGlyphs">14</text>
<line x1="137.85" y1="421.1" x2="137.85" y2="424.1" stroke="#000" stroke-width="1.2"/>
<text x="133.52" y="432.6" font-size="7.1" textLength="9" lengthAdjust="spacingAndGlyphs">28</text>
<line x1="184.8" y1="421.1" x2="184.8" y2="424.1" stroke="#000" stroke-width="1.2"/>
<text x="180.61" y="432.6" font-size="7.1" textLength="9" lengthAdjust="spacingAndGlyphs">42</text>
<text x="82.04" y="320.2" font-size="8.59" textLength="49.16" lengthAdjust="spacingAndGlyphs">B1421-PDX</text>
<line x1="138.1" y1="325" x2="138.1" y2="399.28" stroke="#1f3f6f" stroke-width="1.4" stroke-dasharray="2 2.1"/>
<path d="M43.95,333.8 L127.6,333.8 L127.6,377.45 L131.2,377.45 L131.2,399.28 L138.1,399.28 L138.1,421.1" stroke="#d0102a" stroke-width="1.7" fill="none" stroke-linejoin="miter" stroke-linecap="butt"/>
<path d="M43.95,333.8 L127.6,333.8 L127.6,355.62 L134.6,355.62 L134.6,377.45 L148.1,377.45 L148.1,421.1" stroke="#1440b4" stroke-width="1.7" fill="none" stroke-linejoin="miter" stroke-linecap="butt"/>
<path d="M43.95,333.8 L158.5,333.8 L158.5,355.62 L171.9,355.62 L171.9,377.45 L174.9,377.45 L174.9,421.1" stroke="#4cee1c" stroke-width="1.9" fill="none" stroke-linejoin="miter" stroke-linecap="butt"/>
<text x="163.64" y="344.8" font-size="7.88" textLength="34.71" lengthAdjust="spacingAndGlyphs">P <tspan font-weight="bold">=</tspan> 0.003</text>
<line x1="50.3" y1="388.1" x2="57.1" y2="388.1" stroke="#d0102a" stroke-width="1.3"/>
<line x1="50.3" y1="398.8" x2="57.1" y2="398.8" stroke="#1440b4" stroke-width="1.3"/>
<line x1="50.3" y1="409.6" x2="57.1" y2="409.6" stroke="#4cee1c" stroke-width="1.3"/>
<text x="58.77" y="391" font-size="6.9" textLength="22.43" lengthAdjust="spacingAndGlyphs">Vehicle</text>
<text x="58.5" y="403.1" font-size="7.04" textLength="27.41" lengthAdjust="spacingAndGlyphs">anti-PSA</text>
<text x="58.5" y="411.9" font-size="6.35" textLength="39.36" lengthAdjust="spacingAndGlyphs">anti-IGFBP7</text>
<text x="22.43" y="390.5" font-size="9.02" textLength="35.81" lengthAdjust="spacingAndGlyphs" transform="rotate(-90 22.43 390.5)" class="cd">Survival (%)</text>
<text x="107.61" y="443.42" font-size="9.05" textLength="13.5" lengthAdjust="spacingAndGlyphs" class="cd">Days</text>
<line x1="266.5" y1="324.8" x2="266.5" y2="421.6" stroke="#000" stroke-width="1.5"/>
<line x1="263.5" y1="333.7" x2="266.5" y2="333.7" stroke="#000" stroke-width="1.2"/>
<text x="248.11" y="335.8" font-size="7.1" textLength="13.5" lengthAdjust="spacingAndGlyphs">100</text>
<line x1="263.5" y1="355.52" x2="266.5" y2="355.52" stroke="#000" stroke-width="1.2"/>
<text x="252.64" y="357.62" font-size="7.1" textLength="9" lengthAdjust="spacingAndGlyphs">75</text>
<line x1="263.5" y1="377.35" x2="266.5" y2="377.35" stroke="#000" stroke-width="1.2"/>
<text x="252.61" y="379.45" font-size="7.1" textLength="9" lengthAdjust="spacingAndGlyphs">50</text>
<line x1="263.5" y1="399.18" x2="266.5" y2="399.18" stroke="#000" stroke-width="1.2"/>
<text x="252.64" y="401.28" font-size="7.1" textLength="9" lengthAdjust="spacingAndGlyphs">25</text>
<line x1="263.5" y1="421" x2="266.5" y2="421" stroke="#000" stroke-width="1.2"/>
<text x="257.11" y="423.1" font-size="7.1" textLength="4.5" lengthAdjust="spacingAndGlyphs">0</text>
<line x1="265.9" y1="421" x2="406.2" y2="421" stroke="#000" stroke-width="1.5"/>
<line x1="266.5" y1="421" x2="266.5" y2="424" stroke="#000" stroke-width="1.2"/>
<text x="264.45" y="432.5" font-size="7.1" textLength="4.5" lengthAdjust="spacingAndGlyphs">0</text>
<line x1="309.77" y1="421" x2="309.77" y2="424" stroke="#000" stroke-width="1.2"/>
<text x="305.42" y="432.5" font-size="7.1" textLength="9" lengthAdjust="spacingAndGlyphs">20</text>
<line x1="353.03" y1="421" x2="353.03" y2="424" stroke="#000" stroke-width="1.2"/>
<text x="348.8" y="432.5" font-size="7.1" textLength="9" lengthAdjust="spacingAndGlyphs">40</text>
<line x1="396.3" y1="421" x2="396.3" y2="424" stroke="#000" stroke-width="1.2"/>
<text x="391.95" y="432.5" font-size="7.1" textLength="9" lengthAdjust="spacingAndGlyphs">60</text>
<text x="312.31" y="320.2" font-size="8.88" textLength="40.38" lengthAdjust="spacingAndGlyphs">T979-PDX</text>
<line x1="327.1" y1="325" x2="327.1" y2="421" stroke="#1f3f6f" stroke-width="1.4" stroke-dasharray="2 2.1"/>
<path d="M266.5,333.7 L318.4,333.7 L318.4,368.62 L327.1,368.62 L327.1,386.08 L329.3,386.08 L329.3,403.54 L340.2,403.54 L340.2,421" stroke="#d0102a" stroke-width="1.7" fill="none" stroke-linejoin="miter" stroke-linecap="butt"/>
<path d="M266.5,333.7 L320.9,333.7 L320.9,351.16 L348.9,351.16 L348.9,368.62 L362,368.62 L362,386.08 L366.1,386.08 L366.1,403.54 L404.9,403.54 L404.9,421" stroke="#1440b4" stroke-width="1.7" fill="none" stroke-linejoin="miter" stroke-linecap="butt"/>
<text x="373.14" y="397.7" font-size="7.88" textLength="34.43" lengthAdjust="spacingAndGlyphs">P <tspan font-weight="bold">=</tspan> 0.019</text>
<line x1="345.5" y1="334" x2="352.7" y2="334" stroke="#d0102a" stroke-width="1.3"/>
<line x1="345.5" y1="345.2" x2="352.7" y2="345.2" stroke="#1440b4" stroke-width="1.3"/>
<text x="355.25" y="338.26" font-size="8.38" textLength="22.56" lengthAdjust="spacingAndGlyphs">Isotype</text>
<text x="355.6" y="347.5" font-size="6.35" textLength="38.96" lengthAdjust="spacingAndGlyphs">anti-IGFBP7</text>
<text x="329.61" y="443.72" font-size="9.05" textLength="13.5" lengthAdjust="spacingAndGlyphs" class="cd">Days</text>
<text x="94.25" y="463.7" font-size="8.31" textLength="30.6" lengthAdjust="spacingAndGlyphs">RS4;11</text>
<text x="26" y="539.04" font-size="9.38" textLength="37.26" lengthAdjust="spacingAndGlyphs" transform="rotate(-90 26 539.04)" class="cd">% hCD45(+)</text>
<text x="107.69" y="590.89" font-size="8.71" textLength="14.24" lengthAdjust="spacingAndGlyphs" class="cd">Days</text>
<path d="M63.4,568.5 L101.3,555.2 L139.2,555.55 L177.1,568.5" stroke="#0a2aa8" stroke-width="1.5" fill="none" stroke-linejoin="miter" stroke-linecap="butt"/>
<path d="M63.4,568.5 L101.3,564.55 L139.2,558.62 L177.1,527.67" stroke="#0a2aa8" stroke-width="1.5" fill="none" stroke-linejoin="miter" stroke-linecap="butt"/>
<path d="M63.4,568.5 L101.3,566.52 L139.2,559.5 L177.1,555.11" stroke="#0a2aa8" stroke-width="1.5" fill="none" stroke-linejoin="miter" stroke-linecap="butt"/>
<path d="M63.4,568.5 L101.3,567.84 L139.2,565.87 L177.1,557.52" stroke="#0a2aa8" stroke-width="1.5" fill="none" stroke-linejoin="miter" stroke-linecap="butt"/>
<path d="M63.4,568.5 L101.3,568.5 L139.2,568.28 L177.1,568.5" stroke="#0a2aa8" stroke-width="1.5" fill="none" stroke-linejoin="miter" stroke-linecap="butt"/>
<path d="M63.4,567.18 L101.3,543.7 L139.2,509.45 L177.1,470.38" stroke="#c8001a" stroke-width="1.6" fill="none" stroke-linejoin="miter" stroke-linecap="butt"/>
<path d="M63.4,567.18 L101.3,554.01 L139.2,512.53 L177.1,494.75" stroke="#c8001a" stroke-width="1.6" fill="none" stroke-linejoin="miter" stroke-linecap="butt"/>
<path d="M63.4,567.18 L101.3,554.67 L139.2,518.89 L177.1,499.8" stroke="#c8001a" stroke-width="1.6" fill="none" stroke-linejoin="miter" stroke-linecap="butt"/>
<path d="M63.4,567.18 L101.3,555.33 L139.2,525.7 L177.1,506.82" stroke="#c8001a" stroke-width="1.6" fill="none" stroke-linejoin="miter" stroke-linecap="butt"/>
<line x1="44.4" y1="471.9" x2="44.4" y2="569.1" stroke="#000" stroke-width="1.5"/>
<line x1="41.4" y1="568.5" x2="44.4" y2="568.5" stroke="#000" stroke-width="1.5"/>
<text x="34.81" y="570.7" font-size="7.1" textLength="4.5" lengthAdjust="spacingAndGlyphs">0</text>
<line x1="41.4" y1="546.55" x2="44.4" y2="546.55" stroke="#000" stroke-width="1.5"/>
<text x="30.31" y="548.75" font-size="7.1" textLength="9" lengthAdjust="spacingAndGlyphs">10</text>
<line x1="41.4" y1="524.6" x2="44.4" y2="524.6" stroke="#000" stroke-width="1.5"/>
<text x="30.31" y="526.8" font-size="7.1" textLength="9" lengthAdjust="spacingAndGlyphs">20</text>
<line x1="41.4" y1="502.65" x2="44.4" y2="502.65" stroke="#000" stroke-width="1.5"/>
<text x="30.31" y="504.85" font-size="7.1" textLength="9" lengthAdjust="spacingAndGlyphs">30</text>
<line x1="41.4" y1="480.7" x2="44.4" y2="480.7" stroke="#000" stroke-width="1.5"/>
<text x="30.31" y="482.9" font-size="7.1" textLength="9" lengthAdjust="spacingAndGlyphs">40</text>
<line x1="43.8" y1="568.5" x2="196.5" y2="568.5" stroke="#000" stroke-width="1.5"/>
<line x1="63.4" y1="568.5" x2="63.4" y2="571.5" stroke="#000" stroke-width="1.5"/>
<text x="61.35" y="579.7" font-size="7.1" textLength="4.5" lengthAdjust="spacingAndGlyphs">0</text>
<line x1="101.3" y1="568.5" x2="101.3" y2="571.5" stroke="#000" stroke-width="1.5"/>
<text x="99.25" y="579.7" font-size="7.1" textLength="4.5" lengthAdjust="spacingAndGlyphs">7</text>
<line x1="139.2" y1="568.5" x2="139.2" y2="571.5" stroke="#000" stroke-width="1.5"/>
<text x="134.71" y="579.7" font-size="7.1" textLength="9" lengthAdjust="spacingAndGlyphs">14</text>
<line x1="177.1" y1="568.5" x2="177.1" y2="571.5" stroke="#000" stroke-width="1.5"/>
<text x="172.79" y="579.7" font-size="7.1" textLength="9" lengthAdjust="spacingAndGlyphs">21</text>
<circle cx="101.3" cy="555.2" r="1.6" fill="#fff" stroke="#0a2aa8" stroke-width="1.3"/>
<circle cx="139.2" cy="555.55" r="1.6" fill="#fff" stroke="#0a2aa8" stroke-width="1.3"/>
<circle cx="177.1" cy="568.5" r="1.6" fill="#fff" stroke="#0a2aa8" stroke-width="1.3"/>
<circle cx="101.3" cy="564.55" r="1.6" fill="#fff" stroke="#0a2aa8" stroke-width="1.3"/>
<circle cx="139.2" cy="558.62" r="1.6" fill="#fff" stroke="#0a2aa8" stroke-width="1.3"/>
<circle cx="177.1" cy="527.67" r="1.6" fill="#fff" stroke="#0a2aa8" stroke-width="1.3"/>
<circle cx="101.3" cy="566.52" r="1.6" fill="#fff" stroke="#0a2aa8" stroke-width="1.3"/>
<circle cx="139.2" cy="559.5" r="1.6" fill="#fff" stroke="#0a2aa8" stroke-width="1.3"/>
<circle cx="177.1" cy="555.11" r="1.6" fill="#fff" stroke="#0a2aa8" stroke-width="1.3"/>
<circle cx="101.3" cy="567.84" r="1.6" fill="#fff" stroke="#0a2aa8" stroke-width="1.3"/>
<circle cx="139.2" cy="565.87" r="1.6" fill="#fff" stroke="#0a2aa8" stroke-width="1.3"/>
<circle cx="177.1" cy="557.52" r="1.6" fill="#fff" stroke="#0a2aa8" stroke-width="1.3"/>
<circle cx="101.3" cy="568.5" r="1.6" fill="#fff" stroke="#0a2aa8" stroke-width="1.3"/>
<circle cx="139.2" cy="568.28" r="1.6" fill="#fff" stroke="#0a2aa8" stroke-width="1.3"/>
<circle cx="177.1" cy="568.5" r="1.6" fill="#fff" stroke="#0a2aa8" stroke-width="1.3"/>
<circle cx="63.4" cy="567.18" r="2.2" fill="#c8001a"/>
<circle cx="101.3" cy="543.7" r="2.2" fill="#c8001a"/>
<circle cx="139.2" cy="509.45" r="2.2" fill="#c8001a"/>
<circle cx="177.1" cy="470.38" r="1.6" fill="#fff" stroke="#c8001a" stroke-width="1.4"/>
<circle cx="63.4" cy="567.18" r="2.2" fill="#c8001a"/>
<circle cx="101.3" cy="554.01" r="2.2" fill="#c8001a"/>
<circle cx="139.2" cy="512.53" r="2.2" fill="#c8001a"/>
<circle cx="177.1" cy="494.75" r="1.6" fill="#fff" stroke="#c8001a" stroke-width="1.4"/>
<circle cx="63.4" cy="567.18" r="2.2" fill="#c8001a"/>
<circle cx="101.3" cy="554.67" r="2.2" fill="#c8001a"/>
<circle cx="139.2" cy="518.89" r="2.2" fill="#c8001a"/>
<circle cx="177.1" cy="499.8" r="1.6" fill="#fff" stroke="#c8001a" stroke-width="1.4"/>
<circle cx="63.4" cy="567.18" r="2.2" fill="#c8001a"/>
<circle cx="101.3" cy="555.33" r="2.2" fill="#c8001a"/>
<circle cx="139.2" cy="525.7" r="2.2" fill="#c8001a"/>
<circle cx="177.1" cy="506.82" r="1.6" fill="#fff" stroke="#c8001a" stroke-width="1.4"/>
<line x1="49.2" y1="486.1" x2="55.7" y2="486.1" stroke="#c8001a" stroke-width="1.5"/>
<circle cx="52.4" cy="486.1" r="2.2" fill="#c8001a"/>
<line x1="49.2" y1="499.2" x2="55.7" y2="499.2" stroke="#0038a8" stroke-width="1.5"/>
<circle cx="52.4" cy="499.2" r="2.2" fill="#0038a8"/>
<text x="58.79" y="489.9" font-size="7.45" textLength="28.13" lengthAdjust="spacingAndGlyphs">Anti-PSA</text>
<text x="58.79" y="501.9" font-size="7.45" textLength="39.77" lengthAdjust="spacingAndGlyphs">Anti-IGFBP7</text>
</g>
<rect x="0.75" y="0.75" width="518.5" height="595.5" fill="none" stroke="#000" stroke-width="1.5"/>
</svg>
</body></html>
